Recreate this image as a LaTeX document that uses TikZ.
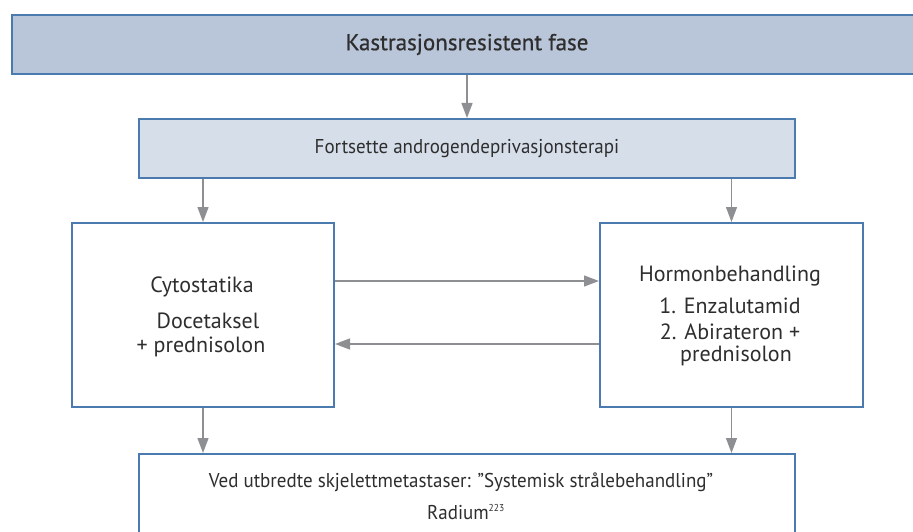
\documentclass[tikz,border=0pt]{standalone}
\usepackage{fontspec}
\setmainfont{PT Sans}
\usetikzlibrary{arrows.meta,calc}
\definecolor{bordc}{HTML}{4A7AAE}
\definecolor{topc}{HTML}{B9C5D9}
\definecolor{subc}{HTML}{D6DEEA}
\definecolor{arrc}{HTML}{8E8F92}
\definecolor{txtc}{HTML}{2E2E2E}
\begin{document}
\begin{tikzpicture}[x=1pt,y=-1pt,
  boxst/.style={draw=bordc, line width=2pt, inner sep=0pt, anchor=north west},
  arr/.style={draw=arrc, line width=1.3pt, -{Triangle[length=15pt,width=11pt]}},
  txt/.style={text=txtc, inner sep=0pt, font=\fontsize{20}{22}\selectfont\addfontfeature{FakeStretch=0.95}},
  bigtxt/.style={text=txtc, inner sep=0pt, font=\fontsize{22}{24}\selectfont},
  toptxt/.style={text=txtc, font=\fontsize{23}{26}\selectfont\addfontfeature{FakeBold=0.6}}]
\useasboundingbox (0,0) rectangle (913,532);
\clip (0,0) rectangle (913,532);
% boxes
\node[boxst, fill=topc, minimum width=910pt, minimum height=59pt, toptxt] (top) at (11,14) {Kastrasjonsresistent fase};
\node[boxst, fill=subc, minimum width=656pt, minimum height=59pt, txt] (adt) at (138,118) {Fortsette androgendeprivasjonsterapi};
\node[boxst, fill=white, minimum width=262pt, minimum height=184pt] (cyto) at (71,222) {};
\node[boxst, fill=white, minimum width=263pt, minimum height=184pt] (horm) at (599,222) {};
\node[boxst, fill=white, minimum width=656pt, minimum height=120pt] (rad) at (138,453) {};
% texts
\node[bigtxt] (c1) at (202,287) {Cytostatika};
\node[bigtxt] (c2) at (208,321) {Docetaksel};
\node[bigtxt] (c3) at (201,347) {+ prednisolon};
\node[bigtxt] (h1) at (730,276) {Hormonbehandling};
\node[bigtxt] (h2) at (730,306) {1. Enzalutamid};
\node[bigtxt] (h3) at (730,332) {2. Abirateron +};
\node[bigtxt] (h4) at (736,356) {prednisolon};
\node[txt] (r1) at (461,482) {Ved utbredte skjelettmetastaser: ''Systemisk strålebehandling''};
\node[txt] (r2) at (466,512) {Radium\textsuperscript{\fontsize{10}{12}\selectfont 223}};
% arrows
\draw[arr] (top.south -| adt.north) -- (adt.north);
\draw[arr] (adt.south -| cyto.north) -- (cyto.north);
\draw[arr] (adt.south -| horm.north) -- (horm.north);
\draw[arr] ($(cyto.east)+(0,-34)$) -- ($(horm.west)+(0,-34)$);
\draw[arr] ($(horm.west)+(0,29)$) -- ($(cyto.east)+(0,29)$);
\draw[arr] (cyto.south) -- (cyto.south |- rad.north);
\draw[arr] (horm.south) -- (horm.south |- rad.north);
\end{tikzpicture}
\end{document}
